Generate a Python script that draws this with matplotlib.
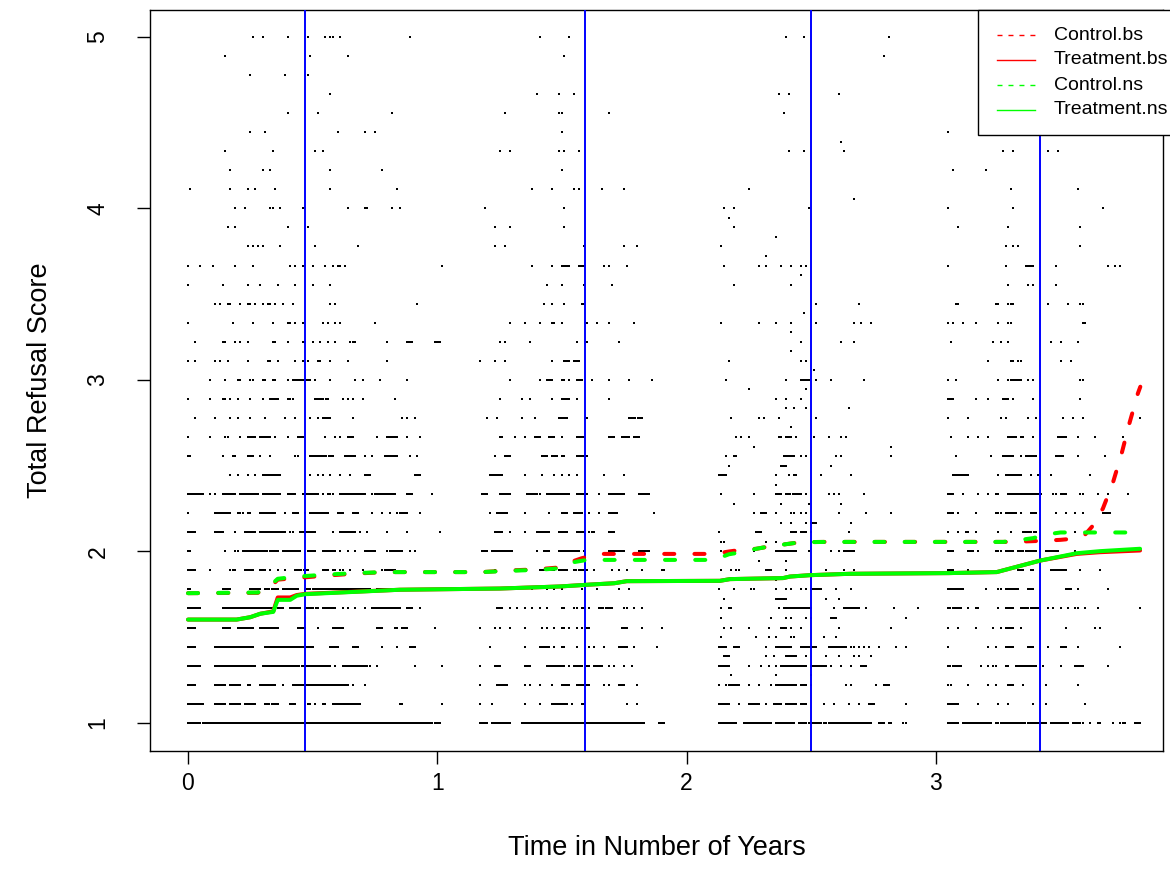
import numpy as np
import matplotlib
matplotlib.use("Agg")
import matplotlib.pyplot as plt
from matplotlib.patches import Rectangle
from matplotlib.lines import Line2D

plt.rcParams['font.family'] = ['Liberation Sans', 'DejaVu Sans']

# Observation times (years) per score level; row k is the score 1 + k/9.
# A token "a-b" is a run of consecutive observations between a and b.
wave1_rows = [
    "0-0.05 0.06-0.89 0.90-0.98 0.99-1.01",
    "0-0.06 0.11-0.15 0.17-0.21 0.23-0.27 0.31-0.36 0.41-0.43 0.48-0.49 0.51 0.54-0.55 0.58-0.69 0.85-0.86 1.02",
    "0-0.03 0.11-0.15 0.17-0.21 0.24-0.25 0.29-0.35 0.38 0.42-0.64 0.66 0.71",
    "0-0.05 0.11-0.27 0.30-0.48 0.49-0.57 0.59 0.62-0.72 0.73 0.76 0.91 1.02",
    "0-0.03 0.11-0.26 0.31-0.50 0.57-0.60 0.66-0.68 0.78 0.84 0.89-0.91",
    "0-0.03 0.14-0.17 0.20-0.26 0.29-0.36 0.44-0.47 0.52 0.58-0.62 0.76-0.78 0.83-0.84 0.86-0.88 0.99",
    "0-0.05 0.14-0.34 0.36-0.38 0.41-0.45 0.47-0.52 0.54-0.59 0.62 0.64 0.67 0.71 0.74-0.85 0.88-0.90 0.93",
    "0-0.01 0.14-0.17 0.25-0.29 0.31-0.36 0.38-0.44 0.47-0.49 0.50-0.73 0.76-0.84",
    "0-0.03 0.09 0.17-0.19 0.23-0.26 0.29-0.31 0.33 0.36 0.39 0.43-0.48 0.54-0.56 0.58-0.59 0.61-0.62 0.65 0.70 0.78-0.83",
    "0-0.01 0.15 0.19-0.20 0.22-0.36 0.38-0.45 0.48-0.51 0.54-0.59 0.61 0.64 0.67 0.71-0.75 0.80-0.85 0.86 0.89 0.91",
    "0-0.03 0.11-0.14 0.19 0.23-0.27 0.29-0.39 0.41-0.42 0.45-0.51 0.58 0.61-0.67 0.69 0.72 0.80 0.88 1.01",
    "0 0.11-0.17 0.20-0.22 0.24-0.25 0.29-0.35 0.39 0.42-0.44 0.47 0.49-0.52 0.53-0.56 0.60-0.62 0.66-0.68 0.74 0.78 0.81 0.84 0.85-0.88 0.93",
    "0-0.06 0.09 0.11 0.14-0.19 0.21-0.28 0.30-0.37 0.40-0.43 0.46-0.52 0.54 0.56-0.58 0.61-0.68 0.69-0.71 0.74-0.83 0.88-0.90 0.98",
    "0.17 0.20 0.24 0.27 0.30-0.37 0.49 0.52 0.54 0.57 0.61 0.65 0.71-0.73 0.91-0.93",
    "0-0.01 0.14 0.18-0.19 0.24-0.26 0.29 0.33 0.43-0.44 0.49-0.58 0.63-0.67 0.71 0.74 0.79-0.84 0.89 0.92",
    "0 0.09 0.15 0.16 0.21 0.24-0.27 0.29-0.32 0.33 0.35 0.40 0.44-0.46 0.55 0.59 0.61 0.64-0.66 0.76 0.80-0.84 0.88 0.93",
    "0.03 0.11 0.17 0.20 0.25 0.31 0.39 0.43 0.49 0.52 0.54-0.57 0.66 0.86 0.88 0.91",
    "0 0.09 0.14 0.15 0.17 0.20 0.25 0.30 0.33-0.36 0.40-0.42 0.51-0.56 0.62 0.64 0.66 0.70 0.83",
    "0.09 0.15 0.20 0.21 0.25 0.26 0.30 0.31 0.34 0.35 0.40 0.42-0.48 0.49 0.51 0.57 0.67 0.70 0.77 0.88",
    "0 0.03 0.11 0.13 0.16 0.24 0.32 0.33 0.36 0.43 0.46 0.48 0.52 0.53 0.57 0.64 0.80",
    "0.03 0.14 0.15 0.19 0.21 0.24 0.34 0.35 0.40 0.46 0.47 0.50 0.53 0.56 0.59 0.65 0.66 0.67 0.80 0.88-0.90 0.99-1.01",
    "0 0.18 0.26 0.34 0.40 0.41 0.43 0.46 0.54 0.56 0.59 0.61 0.75",
    "0.11 0.13 0.16 0.17 0.21 0.24 0.25 0.27 0.30 0.32 0.33 0.35 0.38 0.42 0.57 0.59 0.92",
    "0 0.14 0.24 0.29 0.36 0.43 0.50 0.57",
    "0 0.05 0.10 0.19 0.26 0.41 0.43 0.46 0.50 0.55 0.58 0.60 0.61 0.63 1.02",
    "0.24 0.26 0.28 0.30 0.37 0.51 0.68",
    "0.16 0.19 0.40 0.48",
    "0.19 0.23 0.33 0.34 0.37 0.46 0.64 0.71 0.72 0.82 0.85",
    "0.01 0.17 0.24 0.27 0.35 0.57 0.84",
    "0.17 0.30 0.33 0.57 0.78",
    "0.15 0.34 0.51 0.54",
    "0.25 0.31 0.60 0.71 0.75",
    "0.40 0.52 0.82",
    "0.57",
    "0.25 0.39 0.48",
    "0.15 0.49 0.64",
    "0.26 0.30 0.40 0.48 0.55 0.57 0.58 0.61 0.89",
]

wave2_rows = [
    "1.17-1.20 1.22-1.29 1.34-1.41 1.42-1.54 1.55-1.83 1.89-1.91",
    "1.17 1.22 1.35 1.41 1.46-1.52 1.54 1.58 1.59 1.76 1.80",
    "1.17 1.24-1.28 1.35 1.37 1.41 1.46 1.50-1.53 1.56-1.61 1.67 1.69 1.73-1.75 1.80",
    "1.17 1.23-1.25 1.35-1.37 1.44-1.48 1.49-1.51 1.53 1.55-1.58 1.60-1.61 1.63-1.66 1.69 1.71 1.75 1.78",
    "1.21 1.35 1.41-1.44 1.45 1.47 1.50-1.51 1.56 1.61 1.63 1.67 1.73-1.76 1.79 1.88",
    "1.17 1.23 1.25 1.29 1.35 1.42 1.44 1.47 1.50-1.51 1.53 1.56 1.58 1.60-1.61 1.74-1.76 1.82 1.90",
    "1.24-1.26 1.29 1.32 1.35 1.38 1.41 1.44 1.50-1.51 1.55-1.56 1.58-1.59 1.61 1.65-1.70 1.75-1.76 1.79 1.82",
    "1.38 1.44 1.47 1.50 1.58 1.64 1.73 1.77",
    "1.23 1.35 1.41-1.47 1.49-1.52 1.55-1.60 1.63 1.70 1.73 1.76 1.82 1.90-1.91",
    "1.18-1.20 1.22-1.30 1.40 1.43-1.45 1.49-1.57 1.59 1.69-1.75 1.81-1.85",
    "1.23-1.26 1.29 1.35 1.40-1.45 1.49-1.52 1.56-1.59 1.61-1.63 1.69-1.71",
    "1.21 1.24-1.28 1.35 1.45 1.50-1.52 1.55-1.58 1.61 1.65 1.69-1.72 1.87",
    "1.18-1.20 1.25-1.29 1.36-1.41 1.44-1.53 1.56-1.60 1.65 1.69-1.75 1.81-1.85",
    "1.21-1.26 1.35 1.42 1.47 1.50 1.53 1.56 1.67 1.75",
    "1.23 1.27-1.29 1.42-1.44 1.46-1.48 1.50-1.51 1.56-1.60",
    "1.25-1.26 1.31 1.35 1.39-1.41 1.45-1.47 1.50 1.56-1.59 1.69-1.71 1.74-1.77 1.79-1.81",
    "1.20 1.24 1.34 1.39 1.49-1.52 1.60 1.77-1.82",
    "1.25 1.34 1.37 1.46 1.50-1.53 1.56 1.69",
    "1.29 1.41 1.44-1.46 1.50-1.51 1.53 1.56-1.58 1.62 1.69 1.77 1.86",
    "1.17 1.23 1.27 1.46 1.51-1.53 1.55-1.57",
    "1.25 1.27 1.37 1.56 1.60 1.73",
    "1.29 1.35 1.41 1.46-1.47 1.50 1.60 1.64 1.69 1.79",
    "1.43 1.46 1.51 1.58-1.59",
    "1.44 1.50 1.59 1.70",
    "1.38 1.46 1.50-1.52 1.53 1.57-1.59 1.67 1.69 1.76",
    "1.23 1.27 1.59 1.75 1.80",
    "1.23 1.29 1.51",
    "1.19 1.51",
    "1.38 1.46 1.55 1.57 1.66 1.75",
    "1.50",
    "1.25 1.29 1.49 1.51 1.57",
    "1.50",
    "1.27 1.49 1.50 1.69",
    "1.40 1.49 1.55",
    "",
    "1.51",
    "1.41 1.53",
]

wave3_rows = [
    "2.13-2.19 2.20 2.23-2.27 2.28-2.31 2.32-2.34 2.36-2.43 2.45-2.48 2.49-2.54 2.55-2.56 2.57-2.74 2.77-2.79 2.81-2.82 2.87-2.88",
    "2.13-2.17 2.21 2.25-2.29 2.32 2.35-2.37 2.38 2.40-2.44 2.46-2.48 2.55 2.59 2.65 2.69 2.73-2.75 2.88",
    "2.13 2.16-2.21 2.25 2.29 2.34 2.36-2.44 2.46-2.48 2.50 2.64 2.66 2.76 2.79-2.81",
    "2.13-2.17 2.25 2.30 2.33 2.36 2.38-2.48 2.50-2.56 2.58 2.62 2.66 2.70-2.72",
    "2.13-2.16 2.19-2.21 2.32 2.36-2.42 2.46-2.52 2.57-2.64 2.66-2.67 2.69 2.71 2.73 2.77 2.84 2.88",
    "2.15 2.18 2.25 2.33 2.38-2.40 2.42 2.46 2.61 2.82",
    "2.14 2.17-2.18 2.37 2.39-2.50 2.59 2.63-2.69 2.72 2.83 2.93",
    "2.13 2.19 2.26-2.27 2.36 2.40 2.42 2.46 2.48 2.50-2.54 2.60 2.66",
    "2.14 2.18 2.20-2.21 2.32-2.34 2.40 2.56 2.63 2.67",
    "2.14 2.27 2.36-2.44 2.49 2.58 2.61 2.63-2.67",
    "2.13 2.28-2.30 2.42-2.44 2.46-2.48 2.50 2.65",
    "2.27 2.30-2.32 2.36 2.42-2.43 2.46 2.48 2.61 2.72 2.82",
    "2.14 2.27 2.36-2.38 2.40-2.45 2.46 2.48 2.57 2.59 2.61 2.71",
    "2.13-2.16 2.36 2.41 2.43-2.44 2.54 2.66",
    "2.16 2.19-2.20 2.39-2.43 2.46 2.48 2.60 2.62 2.82",
    "2.20 2.22 2.25 2.37-2.38 2.40-2.42 2.44 2.51 2.57 2.62 2.64",
    "2.18 2.29 2.31 2.37 2.52",
    "2.36 2.40 2.46",
    "2.16 2.40 2.46-2.49 2.52 2.58 2.71",
    "2.17 2.46 2.48",
    "2.46 2.62 2.67",
    "2.14 2.29 2.36 2.42 2.52 2.67 2.70 2.74",
    "2.52 2.69",
    "2.19 2.42",
    "2.15 2.29 2.32 2.38 2.42 2.46 2.48",
    "2.14",
    "2.19",
    "2.15 2.19 2.49",
    "2.25",
    "",
    "2.41 2.47 2.63",
    "",
    "2.39",
    "2.37 2.41 2.61",
    "",
    "2.79",
    "2.40 2.47 2.81",
]

# Third wave also has scores halfway between the ninths: row k is 1 + (k + 0.5)/9
wave3_half_rows = [
    "", "",
    "2.18 2.36 2.50",
    "2.15-2.17 2.32 2.35 2.40-2.44 2.48 2.56 2.61 2.67 2.69 2.74",
    "2.14 2.28 2.33 2.36 2.42-2.43 2.55 2.60",
    "2.14 2.34 2.40 2.42 2.48 2.50 2.58-2.60 2.88",
    "2.15 2.36-2.40 2.56 2.61",
    "2.36",
    "2.29 2.40",
    "2.14-2.15 2.32 2.36",
    "2.38 2.42 2.48 2.50-2.52 2.66",
    "2.19 2.38 2.49 2.62",
    "2.36",
    "2.17 2.38-2.40 2.58",
    "2.27 2.82",
    "2.42",
    "2.40 2.43 2.48 2.65",
    "2.25 2.48",
    "2.51",
    "2.42",
    "2.42",
    "2.47",
    "",
    "2.46",
    "2.32",
    "2.36",
    "2.17",
    "2.67",
    "", "",
    "2.62",
]

wave4_rows = [
    "3.05-3.09 3.11-3.22 3.24-3.26 3.27-3.40 3.41-3.44 3.46-3.53 3.55-3.58 3.59 3.62 3.65-3.66 3.71 3.74-3.76 3.80-3.82",
    "3.05-3.09 3.17 3.25 3.29 3.39 3.44 3.60",
    "3.05-3.06 3.13 3.21 3.24 3.29-3.31 3.35 3.44 3.57",
    "3.05-3.10 3.18 3.21 3.23-3.24 3.28-3.29 3.32 3.33-3.40 3.43 3.50 3.56-3.59 3.69",
    "3.05 3.21 3.24 3.28-3.31 3.37-3.39 3.45 3.50-3.52 3.57 3.74",
    "3.05 3.09 3.16 3.23 3.26 3.28-3.31 3.34 3.52 3.64 3.66",
    "3.05-3.10 3.13 3.16-3.17 3.25 3.28-3.31 3.34-3.37 3.38-3.41 3.45 3.47 3.50 3.53 3.56-3.57 3.60 3.65 3.82",
    "3.05-3.11 3.20 3.25-3.26 3.28-3.33 3.37-3.39 3.52-3.54 3.57 3.69",
    "3.05-3.07 3.13 3.28 3.33-3.35 3.38-3.39 3.46-3.52 3.58 3.66",
    "3.05-3.07 3.13-3.15 3.17 3.24-3.26 3.28-3.31 3.33-3.35 3.36-3.40 3.44-3.49 3.56 3.63 3.79",
    "3.05 3.09 3.12-3.13 3.16 3.25 3.30 3.35-3.40 3.56 3.63 3.76",
    "3.05-3.07 3.09 3.16 3.24-3.26 3.28-3.32 3.34 3.38-3.40 3.48 3.52 3.56 3.59 3.67-3.70",
    "3.05-3.07 3.11 3.17 3.21 3.24-3.25 3.29-3.41 3.42 3.47-3.48 3.50-3.52 3.58-3.59 3.65 3.69 3.77",
    "3.07-3.13 3.25 3.28-3.34 3.38 3.41 3.46 3.62",
    "3.08 3.22 3.27-3.31 3.34 3.36-3.40 3.48-3.51 3.57 3.68",
    "3.06 3.13 3.17 3.21 3.29-3.32 3.34-3.35 3.39 3.49-3.52 3.57 3.64 3.75",
    "3.05 3.13 3.26 3.28 3.37 3.40 3.51 3.55 3.59 3.82",
    "3.05-3.07 3.16 3.21 3.27-3.29 3.31 3.39 3.58",
    "3.05 3.08 3.25 3.29 3.30-3.34 3.37 3.39 3.58 3.59",
    "3.21 3.30-3.31 3.33-3.34 3.50 3.54",
    "3.06 3.23 3.26 3.29 3.46 3.50 3.57",
    "3.05 3.07 3.11 3.16 3.25 3.29 3.30 3.59-3.60",
    "3.08-3.09 3.24-3.25 3.29 3.30-3.31 3.45 3.53 3.58 3.59",
    "3.29 3.37 3.39 3.48",
    "3.05 3.28 3.36-3.38 3.39 3.48 3.69 3.72 3.74",
    "3.28 3.31 3.33 3.58",
    "3.09 3.29 3.58",
    "3.05 3.31 3.67",
    "3.30 3.57",
    "3.07 3.20",
    "3.27 3.31 3.45 3.49",
    "3.05",
]

# Mean observation time of each wave
wave_mean_times = [0.469, 1.592, 2.499, 3.418]

# Fitted mean curves
ctrl_bs_t = [0, 0.28, 0.33, 0.36, 0.44, 0.54, 0.67, 0.79, 1.18, 1.28, 1.40, 1.48, 1.52, 1.58, 1.65,
             2.11, 2.17, 2.22, 2.28, 2.33, 2.39, 2.44, 2.50, 2.56, 3.30, 3.40, 3.50, 3.56, 3.60,
             3.63, 3.67, 3.71, 3.745, 3.775, 3.81, 3.82]
ctrl_bs_v = [1.756, 1.758, 1.79, 1.835, 1.845, 1.857, 1.870, 1.879, 1.879, 1.888, 1.895, 1.905, 1.93,
             1.96, 1.985, 1.985, 1.999, 2.009, 2.015, 2.028, 2.04, 2.05, 2.054, 2.055, 2.055, 2.060,
             2.067, 2.075, 2.10, 2.15, 2.25, 2.40, 2.57, 2.74, 2.92, 2.96]

treat_bs_t = [0, 0.195, 0.25, 0.29, 0.342, 0.353, 0.36, 0.41, 0.436, 0.469, 0.85, 1.25, 1.49, 1.60,
              1.71, 1.76, 2.134, 2.174, 2.387, 2.415, 2.495, 2.655, 3.05, 3.244, 3.418, 3.565,
              3.658, 3.819]
treat_bs_v = [1.602, 1.602, 1.616, 1.636, 1.650, 1.70, 1.731, 1.731, 1.745, 1.752, 1.776, 1.783,
              1.795, 1.805, 1.814, 1.826, 1.828, 1.838, 1.844, 1.853, 1.861, 1.869, 1.873, 1.879,
              1.946, 1.985, 1.995, 2.005]

ctrl_ns_t = [0, 0.28, 0.33, 0.36, 0.44, 0.54, 0.67, 0.79, 1.18, 1.28, 1.40, 1.48, 1.52, 1.60,
             2.11, 2.17, 2.22, 2.28, 2.33, 2.39, 2.44, 2.50, 2.56, 3.27, 3.34, 3.39, 3.45, 3.50, 3.81]
ctrl_ns_v = [1.756, 1.760, 1.80, 1.84, 1.853, 1.863, 1.873, 1.879, 1.879, 1.886, 1.892, 1.90, 1.93,
             1.950, 1.950, 1.983, 1.995, 2.015, 2.028, 2.04, 2.05, 2.054, 2.055, 2.055, 2.067,
             2.077, 2.10, 2.11, 2.11]

treat_ns_t = treat_bs_t
treat_ns_v = [1.602, 1.602, 1.616, 1.636, 1.647, 1.69, 1.717, 1.717, 1.741, 1.750, 1.776, 1.783,
              1.795, 1.805, 1.814, 1.826, 1.828, 1.838, 1.844, 1.853, 1.861, 1.869, 1.873, 1.879,
              1.946, 1.989, 2.001, 2.015]

legend_labels = ["Control.bs", "Treatment.bs", "Control.ns", "Treatment.ns"]

PITCH = 0.008


def expand(row):
    xs = []
    for tok in row.split():
        if "-" in tok:
            a, b = (float(s) for s in tok.split("-"))
            n = int(round((b - a) / PITCH)) + 1
            xs.extend(np.linspace(a, b, n))
        else:
            xs.append(float(tok))
    return xs


def collect(rows, offset=0.0):
    xs, ys = [], []
    for k, row in enumerate(rows):
        t = expand(row)
        xs.extend(t)
        ys.extend([1 + (k + offset) / 9] * len(t))
    return xs, ys


px_x, px_y = [], []
for rows in (wave1_rows, wave2_rows, wave3_rows, wave4_rows):
    a, b = collect(rows)
    px_x += a
    px_y += b
a, b = collect(wave3_half_rows, 0.5)
px_x += a
px_y += b

W, H = 1170, 890
fig = plt.figure(figsize=(W / 100, H / 100), dpi=100)
ax = fig.add_axes([150.5 / W, 1 - 750.5 / H, (1163 - 150.5) / W, (750.5 - 10) / H])

ax.scatter(px_x, px_y, marker="s", s=4.6, c="black", linewidths=0, antialiased=False, zorder=2)

for t in wave_mean_times:
    ax.axvline(t, color="#0000ff", lw=1.4, zorder=3)

LW = 2.9
dash = (2.5, 5.0)
ax.plot(ctrl_bs_t, ctrl_bs_v, color="#ff0000", lw=LW, dashes=dash, dash_capstyle="round", zorder=4)
ax.plot(treat_bs_t, treat_bs_v, color="#ff0000", lw=LW, solid_capstyle="round", zorder=4)
ax.plot(ctrl_ns_t, ctrl_ns_v, color="#00ff00", lw=LW, dashes=dash, dash_capstyle="round", zorder=5)
ax.plot(treat_ns_t, treat_ns_v, color="#00ff00", lw=LW, solid_capstyle="round", zorder=5)

ax.set_xlim(-0.1504, 3.911)
ax.set_ylim(0.8385, 5.157)
ax.set_xticks([0, 1, 2, 3])
ax.set_yticks([1, 2, 3, 4, 5])
ax.set_yticklabels(["1", "2", "3", "4", "5"], rotation=90, va="center")
ax.tick_params(axis="both", direction="out", length=9.5, width=1.0, labelsize=16.5, pad=6)
ax.tick_params(axis="y", pad=20)
for s in ax.spines.values():
    s.set_linewidth(1.0)
ax.set_xlabel("Time in Number of Years", fontsize=19.5, labelpad=29)
ax.set_ylabel("Total Refusal Score", fontsize=19.5, labelpad=24)

# Legend box in the top-right corner
def fx(p):
    return p / W


def fy(p):
    return 1 - p / H


fig.add_artist(Rectangle((fx(978), fy(134.5)), fx(1200) - fx(978), fy(10) - fy(134.5),
                         transform=fig.transFigure, facecolor="white", edgecolor="black",
                         lw=1.0, zorder=10, clip_on=False))
styles = [("#ff0000", (3.6, 4.3)), ("#ff0000", None), ("#00ff00", (3.6, 4.3)), ("#00ff00", None)]
for i, (lab, (col, dsh)) in enumerate(zip(legend_labels, styles)):
    yy = fy(35 + 25 * i)
    ln = Line2D([fx(997), fx(1035)], [yy, yy], transform=fig.transFigure, color=col, lw=1.0, zorder=11)
    if dsh:
        ln.set_dashes(dsh)
    fig.add_artist(ln)
    fig.text(fx(1054), yy, lab, ha="left", va="center", fontsize=14, zorder=11)

fig.savefig("out.png", dpi=100)
